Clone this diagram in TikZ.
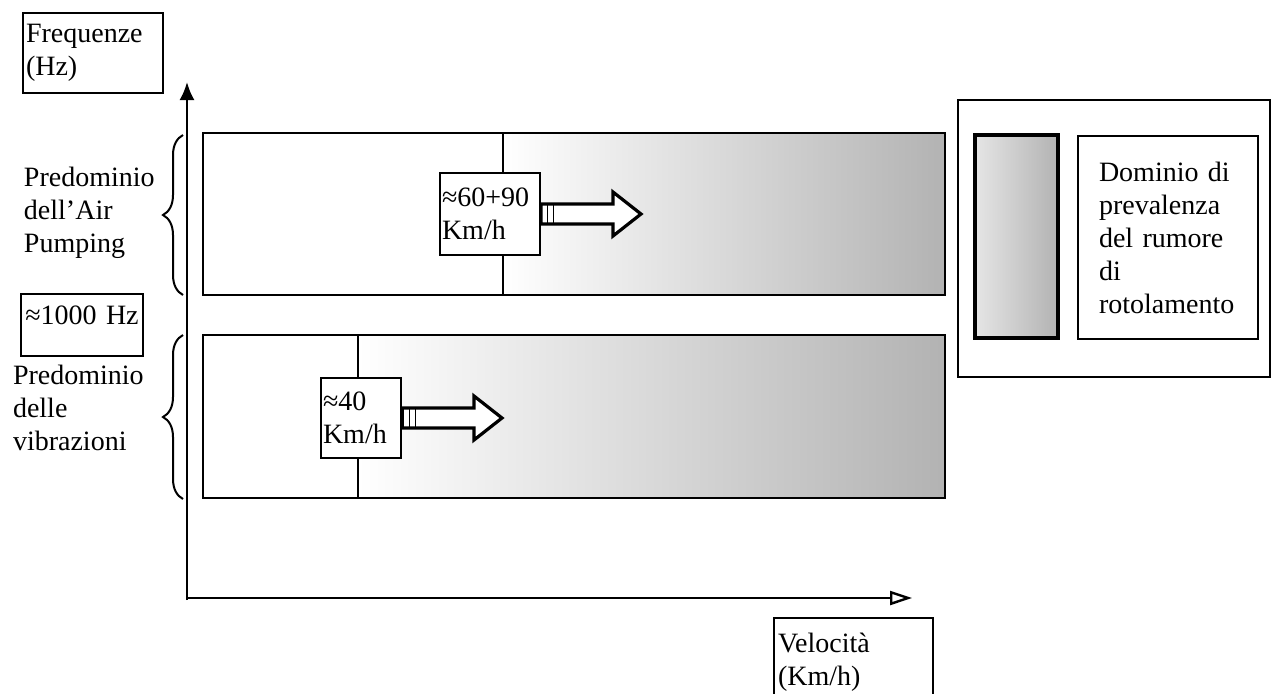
\documentclass[tikz,border=0pt]{standalone}
\usepackage{fontspec}
\setmainfont{Liberation Serif}
\usetikzlibrary{arrows.meta}
\usetikzlibrary{calc}
\usetikzlibrary{patterns,decorations.pathreplacing}

\begin{document}
\begin{tikzpicture}[x=0.5pt, y=-0.5pt, line width=1pt,
		txt/.style={font=\fontsize{14}{16.5}\selectfont, align=left, inner sep=0pt},
		lblbox/.style={txt, draw, fill=white, inner xsep=1.5pt},
		shaded/.style={left color=white, right color=gray!60, line width=1.4pt},
		blockarrow/.style={draw, fill=white, line width=1.6pt, line join=miter}]
	\useasboundingbox (0,0) rectangle (1281,693);
	\draw (203,133) rectangle (945,295);
	\draw[shaded] (503,133) rectangle (945,295);
	\draw (203,335) rectangle (945,498);
	\draw[shaded] (358,335) rectangle (945,498);
	\coordinate (O) at (187,600);
	\coordinate (ytop) at (187,82);
	\coordinate (xorig) at (187,598);
	\coordinate (xend) at (912,598);
	\draw[-{Latex[length=9pt,width=7.5pt]}, line width=1.2pt] (O) -- (ytop);
	\draw[-{Triangle[open,length=11pt,width=7pt]}, line width=1.2pt] (xorig) -- (xend);
	\node[lblbox, anchor=north west, text width=67pt, minimum height=40pt] (freq) at (22,12) {Frequenze\\(Hz)};
	\node[lblbox, anchor=north west, text width=75.5pt, inner xsep=2pt, minimum height=44pt] (vel) at (773,617) {Velocità\\(Km/h)};
	\node[lblbox, anchor=north west, text width=59pt, inner xsep=1pt, align=center, text height=15pt, text depth=16pt] (hz) at (20,293) {≈1000 Hz};
	\node[txt, anchor=north west] (air) at (23,166) {Predominio\\dell'Air\\Pumping};
	\node[txt, anchor=north west] (vib) at (12,364) {Predominio\\delle\\vibrazioni};
	\draw[decorate, decoration={brace, amplitude=10pt}] (183,295) -- (183,135);
	\draw[decorate, decoration={brace, amplitude=10pt}] (183,499) -- (183,335);
	\node[lblbox, text width=48pt, inner xsep=1pt, minimum height=41pt] (v60) at (490,214) {≈60+90\\Km/h};
	\node[lblbox, text width=38pt, inner xsep=1pt, minimum height=40pt] (v40) at (361,418) {≈40\\Km/h};
	\foreach \b in {v60,v40} {
		\draw[blockarrow] ($(\b.east)+(0,-10)$) -- ++(72,0) -- ++(0,-12) -- ++(28,22)
			-- ++(-28,22) -- ++(0,-12) -- ++(-72,0) -- cycle;
		\fill[pattern=vertical lines] ($(\b.east)+(0,-10)$) rectangle ++(15,20);
	}
	\draw (958,100) rectangle (1270,377);
	\draw[left color=gray!20, right color=gray!60, line width=1.6pt] (975,135) rectangle (1058,338);
	\node[txt, draw, anchor=north west, text width=69pt, inner xsep=10.5pt, minimum height=101.5pt] (legtxt) at (1077,135) {Dominio di\\prevalenza\\del rumore\\di\\rotolamento};
\end{tikzpicture}
\end{document}
